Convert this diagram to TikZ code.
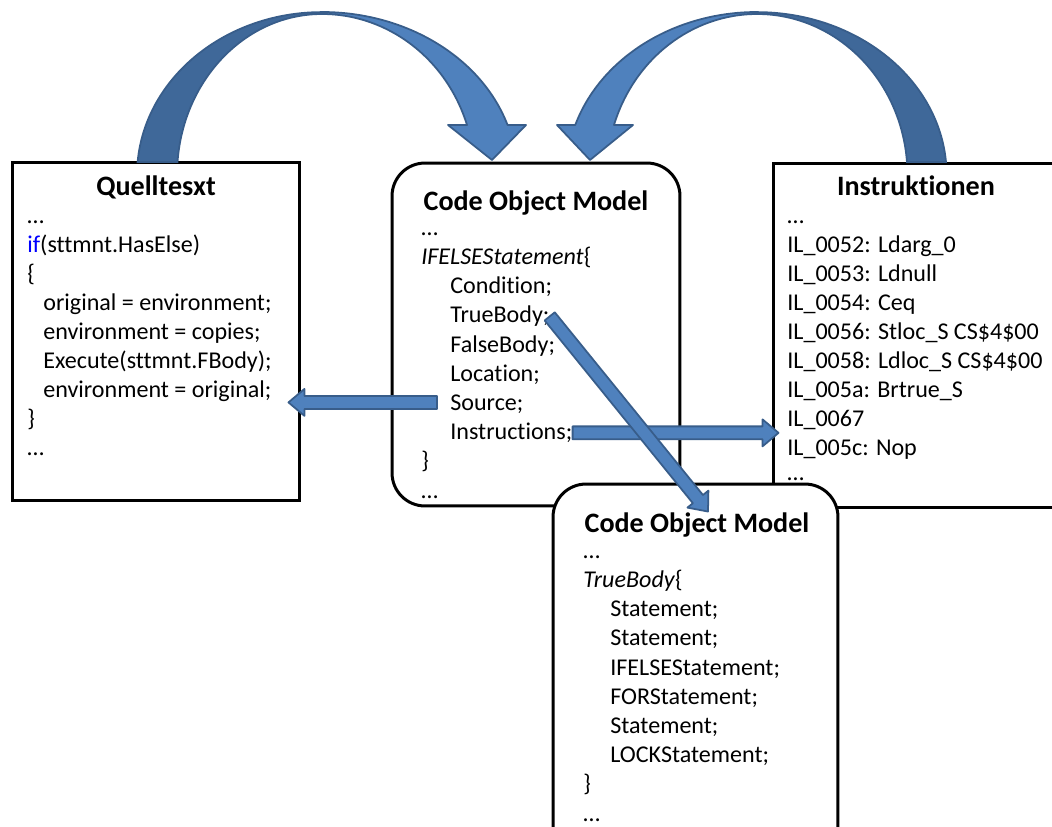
\documentclass[tikz,border=0pt]{standalone}
\usepackage{fontspec}
\setmainfont{Carlito}[Ligatures=NoCommon]
\usetikzlibrary{calc,positioning}

\definecolor{arrowfill}{RGB}{79,129,189}
\definecolor{arrowdark}{RGB}{63,104,153}
\definecolor{arrowline}{RGB}{56,93,138}

\newcommand{\codefont}{\fontsize{13.7}{16}\selectfont}
\newcommand{\titlefont}{\fontsize{16}{19}\selectfont\bfseries}

% straight block arrow from #1 to #2
\newcommand{\blockarrow}[2]{%
  \path ($(#2)!0.32cm!(#1)$) coordinate (neck);
  \filldraw[blockarrow] ($(#1)!0.13cm!90:(#2)$) -- ($(neck)!0.13cm!90:(#2)$)
    -- ($(neck)!0.27cm!90:(#2)$) -- (#2) -- ($(neck)!0.27cm!-90:(#2)$)
    -- ($(neck)!0.13cm!-90:(#2)$) -- ($(#1)!0.13cm!-90:(#2)$) -- cycle;
}

\begin{document}
\begin{tikzpicture}[x=0.02cm, y=-0.02cm,
		plainbox/.style  = {draw, line width=1.7pt, fill=white, rectangle, inner sep=0pt},
		roundbox/.style  = {plainbox, rounded corners=0.66cm},
		boxtitle/.style  = {anchor=base, inner sep=0pt, font=\titlefont},
		codeline/.style  = {anchor=base west, inner sep=0pt, font=\codefont},
		blockarrow/.style = {fill=arrowfill, draw=arrowline, line width=1pt, line join=round},
		bandback/.style  = {fill=arrowdark, draw=arrowline, line width=1pt},
		bandfront/.style = {fill=arrowfill, draw=arrowline, line width=1pt, line join=round}]
		
		\clip (0,0) rectangle (1052,826);
		
		% The three boxes of the upper row
		\node[plainbox, minimum width=5.76cm, minimum height=6.78cm] (quelle) at (156,331.5) {};
		\node[roundbox, minimum width=5.76cm, minimum height=6.86cm] (com) at (536,334.5) {};
		\node[plainbox, minimum width=5.72cm, minimum height=6.9cm] (instr) at (916,335.5) {};
		
		% Source text
		\node[boxtitle] (quelle title) at (156,195) {Quelltesxt};
		\foreach \dx/\txt [count=\i] in {0/…, 0/{\textcolor{blue}{if}(sttmnt.HasElse)}, 0/\{,
			16/original = environment;, 16/environment = copies;, 16/Execute(sttmnt.FBody);,
			16/environment = original;, 0/\}, 0/…}
		\node[codeline] (q\i) at (27+\dx,194+29*\i) {\txt};
		
		% Code object model
		\node[boxtitle] (com title) at (536,210) {Code Object Model};
		\foreach \dx/\txt [count=\i] in {0/…, 0/{\textit{IFELSEStatement}\{}, 29/Condition;,
			29/TrueBody;, 29/FalseBody;, 29/Location;, 29/Source;, 29/Instructions;, 0/\}, 0/…}
		\node[codeline] (m\i) at (421+\dx,206+29.2*\i) {\txt};
		
		% Instructions
		\node[boxtitle] (instr title) at (916,195) {Instruktionen};
		\foreach \txt [count=\i] in {…, IL\_0052: Ldarg\_0, IL\_0053: Ldnull, IL\_0054: Ceq,
			IL\_0056: Stloc\_S CS\$4\$00, IL\_0058: Ldloc\_S CS\$4\$00, IL\_005a: Brtrue\_S,
			IL\_0067, IL\_005c: Nop}
		\node[codeline] (r\i) at (787,194+29*\i) {\txt};
		\node[codeline] (r10) at (787,480) {…};
		
		% Lower box, on top of the others
		\node[roundbox, minimum width=5.7cm, minimum height=7.6cm] (body) at (695.5,674) {};
		\node[boxtitle] (body title) at (697,532) {Code Object Model};
		\foreach \dx/\txt [count=\i] in {0/…, 0/{\textit{TrueBody}\{}, 27/Statement;, 27/Statement;,
			27/IFELSEStatement;, 27/FORStatement;, 27/Statement;, 27/LOCKStatement;, 0/\}, 0/…}
		\node[codeline] (b\i) at (583+\dx,529+29.2*\i) {\txt};
		
		% Straight arrows out of the model
		\coordinate (src tail) at ([xshift=-0.26cm, yshift=0.16cm]m7.base west);
		\path (quelle.east |- src tail) ++(-0.26cm,0) coordinate (src tip);
		\blockarrow{src tail}{src tip}
		\path (instr.west |- m8.east) ++(0.14cm,0) coordinate (il tip);
		\blockarrow{m8.east}{il tip}
		\path (body.north) ++(0.25cm,-0.58cm) coordinate (body tip);
		\blockarrow{m4.east}{body tip}
		
		% Curved arrows over the top
		\filldraw[bandback] (137.6,162) arc[start angle=175.4, end angle=90, x radius=3.7cm, y radius=3.26cm]
		-- (322,14) arc[start angle=90, end angle=175.4, x radius=2.9cm, y radius=3.22cm] -- cycle;
		\filldraw[bandfront] (322,12) arc[start angle=90, end angle=17.86, x radius=3.9cm, y radius=3.26cm]
		-- (526,125) -- (492,160) -- (448,125) -- (467,125)
		arc[start angle=18.09, end angle=90, x radius=3.05cm, y radius=3.22cm] -- cycle;
		
		\filldraw[bandback] (946,162) arc[start angle=4.6, end angle=90, x radius=3.8cm, y radius=3.26cm]
		-- (757,14) arc[start angle=90, end angle=4.6, x radius=3.01cm, y radius=3.22cm] -- cycle;
		\filldraw[bandfront] (757,12) arc[start angle=90, end angle=162.14, x radius=3.82cm, y radius=3.26cm]
		-- (557,125) -- (590,160) -- (633,125) -- (614,125)
		arc[start angle=161.91, end angle=90, x radius=3.01cm, y radius=3.22cm] -- cycle;
		
	\end{tikzpicture}
\end{document}
